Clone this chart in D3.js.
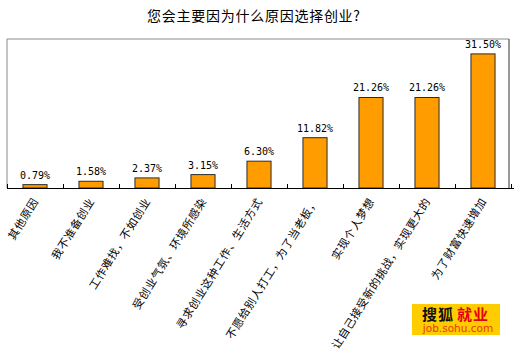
<!DOCTYPE html>
<html>
<head>
<meta charset="utf-8">
<script src="https://cdn.jsdelivr.net/npm/d3@7"></script>
<style>
  body { margin: 0; background: #fff; }
  svg { display: block; }
</style>
</head>
<body>
<svg id="drawing_region"></svg>
<script>
// categories and values
var Categories = [
    '其他原因',
    '我不准备创业',
    '工作难找，不如创业',
    '受创业气氛、环境所感染',
    '寻求创业这种工作、生活方式',
    '不愿给别人打工，为了当老板，',
    '实现个人梦想',
    '让自己接受新的挑战，实现更大的',
    '为了财富快速增加'
];
var Values = [0.79, 1.58, 2.37, 3.15, 6.30, 11.82, 21.26, 21.26, 31.50];
var Title = '您会主要因为什么原因选择创业?';

var Config = {
    parent: '#drawing_region',
    width: 520,
    height: 352,
    plot: { left: 7, right: 511, top: 39, bottom: 188 }
};

class BarChart {
    constructor(config) {
        this.config = config;
        this.init();
    }

    init() {
        let self = this;
        let p = self.config.plot;
        self.svg = d3.select(self.config.parent)
            .attr('width', self.config.width)
            .attr('height', self.config.height);

        self.xscale = d3.scaleBand()
            .domain(Categories)
            .range([p.left, p.right])
            .paddingInner(0.57)
            .paddingOuter(0.285);

        self.yscale = d3.scaleLinear()
            .domain([0, 35])
            .range([p.bottom, p.top]);

        // boundaries between the categories, for the little tick marks
        self.tickscale = d3.scaleLinear()
            .domain([0, Categories.length])
            .range([p.left, p.right]);
    }

    render() {
        let self = this;
        let p = self.config.plot;

        self.svg.append('text')
            .attr('x', 147)
            .attr('y', 21)
            .attr('textLength', 213)
            .attr('lengthAdjust', 'spacing')
            .attr('font-family', '"Noto Sans CJK SC", sans-serif')
            .attr('font-size', 14)
            .attr('fill', '#000')
            .text(Title);

        // plot frame
        self.svg.append('path')
            .attr('d', `M${p.left},${p.bottom}V${p.top}H${p.right - 2}`)
            .attr('fill', 'none')
            .attr('stroke', '#8c8c8c')
            .attr('stroke-width', 1);
        self.svg.append('line')
            .attr('x1', p.right - 2).attr('x2', p.right - 2)
            .attr('y1', p.top).attr('y2', p.bottom)
            .attr('stroke', '#333');

        self.svg.selectAll('rect.bar')
            .data(Values)
            .join('rect')
            .attr('class', 'bar')
            .attr('x', (d, i) => self.xscale(Categories[i]))
            .attr('y', d => self.yscale(d))
            .attr('width', self.xscale.bandwidth())
            .attr('height', d => self.yscale(0) - self.yscale(d))
            .attr('fill', '#ff9c00')
            .attr('stroke', '#2b2b2b')
            .attr('stroke-width', 1);

        self.svg.selectAll('text.value')
            .data(Values)
            .join('text')
            .attr('class', 'value')
            .attr('x', (d, i) => self.xscale(Categories[i]) + self.xscale.bandwidth() / 2)
            .attr('y', d => self.yscale(d) - 6)
            .attr('text-anchor', 'middle')
            .attr('font-family', '"DejaVu Sans Mono", monospace')
            .attr('font-size', 10)
            .attr('fill', '#000')
            .text(d => d.toFixed(2) + '%');

        let xaxis = d3.axisBottom(self.tickscale)
            .ticks(Categories.length)
            .tickSize(-4)
            .tickSizeOuter(0)
            .tickFormat('');
        let g = self.svg.append('g')
            .attr('transform', `translate(0, ${p.bottom})`)
            .call(xaxis);
        g.select('.domain')
            .attr('d', `M${p.left},0.5H${p.right + 3}`)
            .attr('stroke', '#000');
        g.selectAll('.tick line').attr('stroke', '#000');

        self.svg.selectAll('text.cat')
            .data(Categories)
            .join('text')
            .attr('class', 'cat')
            .attr('transform', d => `translate(${self.xscale(d) + self.xscale.bandwidth() / 2 + 4}, ${p.bottom + 13}) rotate(-58)`)
            .attr('text-anchor', 'end')
            .attr('font-family', '"Noto Sans CJK SC", sans-serif')
            .attr('font-size', 11)
            .attr('letter-spacing', 0.7)
            .attr('fill', '#000')
            .text(d => d);

        // sohu logo
        let logo = self.svg.append('g');
        logo.append('rect')
            .attr('x', 412).attr('y', 304)
            .attr('width', 88).attr('height', 31)
            .attr('fill', '#ffcc00');
        let t = logo.append('text')
            .attr('x', 422).attr('y', 320)
            .attr('font-family', '"Noto Sans CJK SC", sans-serif')
            .attr('font-size', 15)
            .attr('font-weight', 'bold')
            .attr('letter-spacing', 1);
        t.append('tspan').attr('fill', '#111').text('搜狐');
        t.append('tspan').attr('fill', '#e60012').attr('dx', 3).text('就业');
        logo.append('text')
            .attr('x', 458).attr('y', 332)
            .attr('text-anchor', 'middle')
            .attr('font-family', '"DejaVu Sans", sans-serif')
            .attr('font-size', 10.5)
            .attr('fill', '#e8380d')
            .text('job.sohu.com');
    }
}

const bar_chart = new BarChart(Config);
bar_chart.render();
</script>
</body>
</html>
